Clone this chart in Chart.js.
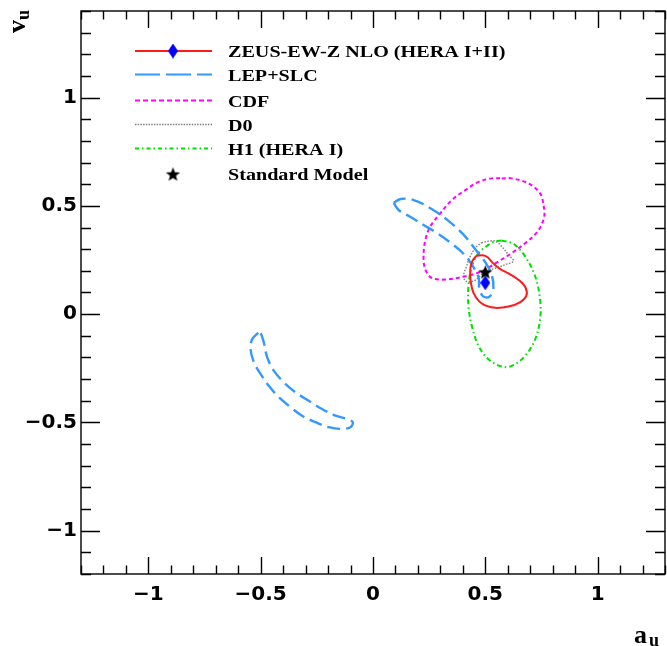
<!DOCTYPE html>
<html>
<head>
<meta charset="utf-8">
<script src="https://cdn.jsdelivr.net/npm/chart.js@4.4.1/dist/chart.umd.min.js"></script>
<style>
html,body{margin:0;padding:0;background:#fff;}
#wrap{width:667px;height:646px;position:relative;}
</style>
</head>
<body>
<div id="wrap"><canvas id="c" width="667" height="646"></canvas></div>
<script>
// ---- axis ticks ----
const xTickValues = [-1, -0.5, 0, 0.5, 1];
const yTickValues = [-1, -0.5, 0, 0.5, 1];

// ---- legend labels ----
const legendLabels = ['ZEUS-EW-Z NLO (HERA I+II)', 'LEP+SLC', 'CDF', 'D0', 'H1 (HERA I)', 'Standard Model'];

// ---- ZEUS-EW-Z NLO contour (a_u, v_u) ----
const zeusA = [0.460,0.488,0.510,0.532,0.563,0.612,0.652,0.679,0.683,0.656,0.603,0.545,0.505,0.474,0.448,0.434,0.434,0.443];
const zeusV = [0.269,0.272,0.263,0.238,0.210,0.183,0.155,0.123,0.086,0.056,0.035,0.029,0.038,0.058,0.097,0.160,0.215,0.247];
const zeusFitA = [0.50];
const zeusFitV = [0.145];

// ---- LEP+SLC contours (two bands) ----
const lepUpperA = [0.092,0.123,0.181,0.261,0.336,0.403,0.457,0.501,0.528,0.536,0.519,0.492,0.474,0.470,0.443,0.403,0.345,0.283,0.225,0.167,0.114];
const lepUpperV = [0.514,0.532,0.527,0.486,0.431,0.367,0.297,0.238,0.183,0.123,0.081,0.081,0.114,0.169,0.224,0.279,0.330,0.376,0.412,0.449,0.481];
const lepLowerA = [-0.511,-0.538,-0.545,-0.530,-0.500,-0.464,-0.419,-0.367,-0.316,-0.256,-0.197,-0.138,-0.100,-0.090,-0.116,-0.167,-0.227,-0.286,-0.345,-0.397,-0.441,-0.471,-0.486,-0.500];
const lepLowerV = [-0.086,-0.116,-0.162,-0.223,-0.277,-0.331,-0.384,-0.430,-0.469,-0.499,-0.522,-0.530,-0.522,-0.499,-0.484,-0.469,-0.438,-0.400,-0.361,-0.315,-0.262,-0.200,-0.131,-0.089];

// ---- CDF contour ----
const cdfA = [0.573,0.618,0.692,0.744,0.759,0.762,0.735,0.680,0.615,0.550,0.484,0.411,0.322,0.262,0.233,0.225,0.233,0.255,0.300,0.351,0.411,0.470,0.529];
const cdfV = [0.627,0.627,0.604,0.558,0.505,0.450,0.385,0.330,0.280,0.238,0.198,0.175,0.160,0.167,0.206,0.267,0.343,0.405,0.466,0.527,0.573,0.611,0.627];

// ---- D0 contour ----
const d0A = [0.483,0.514,0.545,0.572,0.603,0.625,0.590,0.545,0.514,0.483,0.452,0.416,0.403,0.416,0.433,0.455];
const d0V = [0.330,0.337,0.337,0.314,0.274,0.245,0.229,0.212,0.201,0.183,0.155,0.151,0.174,0.219,0.267,0.305];

// ---- H1 (HERA I) contour ----
const h1A = [0.573,0.625,0.677,0.722,0.744,0.744,0.722,0.677,0.618,0.573,0.514,0.470,0.440,0.425,0.425,0.440,0.470,0.514,0.544];
const h1V = [0.340,0.325,0.267,0.175,0.068,-0.024,-0.116,-0.193,-0.239,-0.242,-0.208,-0.147,-0.055,0.037,0.129,0.221,0.282,0.320,0.336];

// ---- Standard Model point ----
const smA = [0.50];
const smV = [0.195];

function closed(a, v) {
  const pts = a.map((x, i) => ({x: x, y: v[i]}));
  pts.push({x: a[0], y: v[0]});
  return pts;
}
function pts(a, v) { return a.map((x, i) => ({x: x, y: v[i]})); }

function makeDiamond(w, h, color) {
  const c = document.createElement('canvas');
  c.width = w; c.height = h;
  const g = c.getContext('2d');
  g.fillStyle = color;
  g.beginPath();
  g.moveTo(w / 2, 0); g.lineTo(w, h / 2); g.lineTo(w / 2, h); g.lineTo(0, h / 2);
  g.closePath(); g.fill();
  return c;
}
function makeStar(r, color) {
  const s = Math.ceil(2 * r + 2);
  const c = document.createElement('canvas');
  c.width = s; c.height = s;
  const g = c.getContext('2d');
  g.fillStyle = color;
  g.beginPath();
  for (let k = 0; k < 10; k++) {
    const ang = -Math.PI / 2 + k * Math.PI / 5;
    const rr = (k % 2) ? r * 0.42 : r;
    g.lineTo(s / 2 + rr * Math.cos(ang), s / 2 + rr * Math.sin(ang) + r * 0.1);
  }
  g.closePath(); g.fill();
  return c;
}
const diamondImg = makeDiamond(10, 15, '#0000ff');
const starImg = makeStar(7.5, '#000000');

const RED = '#ff1a1a', BLUE = '#3399ff', MAG = '#ff00ff', GRAY = '#808080', GREEN = '#00e000';

const lineDS = (data, color, width, dash) => ({
  data: data, showLine: true, borderColor: color, borderWidth: width, borderDash: dash,
  pointRadius: 0, pointHoverRadius: 0, fill: false, tension: 0.35, backgroundColor: 'transparent'
});

const datasets = [
  {data: pts(smA, smV), pointStyle: starImg, pointRadius: 7, showLine: false},
  {data: pts(zeusFitA, zeusFitV), pointStyle: diamondImg, pointRadius: 7, showLine: false},
  lineDS(closed(zeusA, zeusV), RED, 2, []),
  lineDS(closed(lepUpperA, lepUpperV), BLUE, 2.4, [13, 6]),
  lineDS(closed(lepLowerA, lepLowerV), BLUE, 2.4, [13, 6]),
  lineDS(closed(cdfA, cdfV), MAG, 2, [4, 3]),
  lineDS(closed(d0A, d0V), GRAY, 1.4, [1.5, 1.5]),
  lineDS(closed(h1A, h1V), GREEN, 2, [5, 3, 1.5, 3])
];

const legendStyles = [
  {color: RED, width: 2, dash: [], marker: diamondImg, line: true},
  {color: BLUE, width: 2, dash: [25, 6], line: true},
  {color: MAG, width: 2, dash: [5, 3], line: true},
  {color: GRAY, width: 1.4, dash: [1.5, 1.2], line: true},
  {color: GREEN, width: 2, dash: [4, 3, 1.5, 3], line: true},
  {color: '#000', marker: starImg, line: false}
];
const legendRowsY = [51, 74.5, 100.5, 124.5, 148.5, 174];

const framePlugin = {
  id: 'framePlugin',
  afterDraw(chart) {
    const ctx = chart.ctx, a = chart.chartArea, xs = chart.scales.x, ys = chart.scales.y;
    ctx.save();
    ctx.strokeStyle = '#000';
    ctx.lineWidth = 1.4;
    ctx.setLineDash([]);
    ctx.strokeRect(a.left, a.top, a.right - a.left, a.bottom - a.top);
    ctx.beginPath();
    for (let i = -13; i <= 13; i++) {
      const px = Math.round(xs.getPixelForValue(i / 10)) + 0.5;
      const L = (i % 5 === 0) ? 17 : 8.5;
      ctx.moveTo(px, a.bottom); ctx.lineTo(px, a.bottom - L);
      ctx.moveTo(px, a.top); ctx.lineTo(px, a.top + L);
    }
    for (let i = -12; i <= 14; i++) {
      const py = Math.round(ys.getPixelForValue(i / 10)) + 0.5;
      const L = (i % 5 === 0) ? 19 : 10;
      ctx.moveTo(a.left, py); ctx.lineTo(a.left + L, py);
      ctx.moveTo(a.right, py); ctx.lineTo(a.right - L, py);
    }
    ctx.stroke();

    // legend
    const x0 = 135, x1 = 212, xm = 173, tx = 228;
    legendLabels.forEach((lab, i) => {
      const st = legendStyles[i], yy = legendRowsY[i];
      if (st.line) {
        ctx.beginPath();
        ctx.strokeStyle = st.color;
        ctx.lineWidth = st.width;
        ctx.setLineDash(st.dash);
        ctx.moveTo(x0, yy); ctx.lineTo(x1, yy);
        ctx.stroke();
        ctx.setLineDash([]);
      }
      if (st.marker) {
        ctx.drawImage(st.marker, xm - st.marker.width / 2, yy - st.marker.height / 2);
      }
      ctx.save();
      ctx.translate(tx, yy + 6);
      ctx.scale(1.15, 1);
      ctx.fillStyle = '#000';
      ctx.font = 'bold 17.5px "Liberation Serif"';
      ctx.textBaseline = 'alphabetic';
      ctx.textAlign = 'left';
      ctx.fillText(lab, 0, 0);
      ctx.restore();
    });

    // axis titles
    ctx.fillStyle = '#000';
    ctx.textBaseline = 'alphabetic';
    ctx.textAlign = 'left';
    ctx.font = 'bold 26px "Liberation Serif"';
    ctx.fillText('a', 634, 643);
    ctx.font = 'bold 18px "Liberation Serif"';
    ctx.fillText('u', 649, 646);

    ctx.save();
    ctx.translate(25, 33);
    ctx.rotate(-Math.PI / 2);
    ctx.font = 'bold 26px "Liberation Serif"';
    ctx.fillText('v', 0, 0);
    ctx.font = 'bold 18px "Liberation Serif"';
    ctx.fillText('u', 13, 4);
    ctx.restore();
    ctx.restore();
  }
};

const tickFont = {family: '"DejaVu Sans"', weight: 'bold', size: 20};
const fmt = v => (v < 0 ? '\u2212' + String(-v) : String(v));

new Chart(document.getElementById('c'), {
  type: 'scatter',
  data: {datasets: datasets},
  options: {
    responsive: false,
    animation: false,
    devicePixelRatio: 1,
    layout: {autoPadding: false, padding: {left: 0, right: 2, top: 11, bottom: 0}},
    plugins: {legend: {display: false}, tooltip: {enabled: false}},
    events: [],
    scales: {
      x: {
        type: 'linear', min: -1.3, max: 1.3,
        grid: {display: false, drawTicks: false},
        border: {display: false},
        afterBuildTicks: s => { s.ticks = xTickValues.map(v => ({value: v})); },
        afterFit: s => { s.height = 72; s.paddingLeft = 0; s.paddingRight = 0; },
        ticks: {font: tickFont, color: '#000', padding: 9, callback: v => fmt(v), maxRotation: 0, autoSkip: false}
      },
      y: {
        type: 'linear', min: -1.2, max: 1.4,
        grid: {display: false, drawTicks: false},
        border: {display: false},
        afterBuildTicks: s => { s.ticks = yTickValues.map(v => ({value: v})); },
        afterFit: s => { s.width = 81; s.paddingTop = 0; s.paddingBottom = 0; },
        ticks: {font: tickFont, color: '#000', padding: 4, callback: v => fmt(v), autoSkip: false}
      }
    }
  },
  plugins: [framePlugin]
});
</script>
</body>
</html>
